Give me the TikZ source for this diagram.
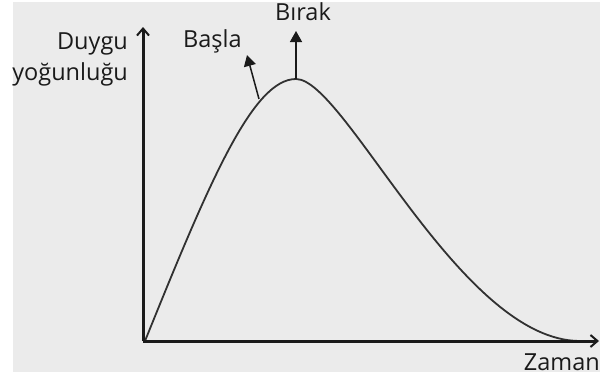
\documentclass[tikz,border=0pt]{standalone}
\usepackage{fontspec}
\setmainfont{Open Sans}
\usetikzlibrary{arrows.meta}
\definecolor{bggray}{HTML}{EBEBEB}
\definecolor{ink}{HTML}{1A1A1A}
\begin{document}
\begin{tikzpicture}[x=1pt,y=-1pt,
  lbl/.style={inner sep=0pt,text=ink,font=\fontsize{23.5}{28}\selectfont},
  axis/.style={line width=3pt,draw=ink,-{Straight Barb[length=7pt,width=12pt,line width=2pt]}},
  curve/.style={line width=1.8pt,draw=ink!90},
  marker/.style={line width=1.5pt,draw=ink,-{Triangle[length=11pt,width=12pt]}}]
\useasboundingbox (0,0) rectangle (600,383);
\fill[white] (0,0) rectangle (600,383);
\fill[bggray] (13,2) rectangle (600,372);
\coordinate (O) at (143,341);
\coordinate (Ytop) at (143,27);
\coordinate (Xend) at (599,341);
\coordinate (C0) at (145,341);
\coordinate (Peak) at (296,79);
\coordinate (End) at (580,341);
\coordinate (BaslaFoot) at (259,99);
\coordinate (BaslaTip) at (247,55);
\coordinate (BirakTip) at (296,31);
\draw[curve] (C0) .. controls (210,180) and (253,79) .. (Peak)
  .. controls (345,79) and (460,341) .. (End);
\draw[axis] (O) -- (Ytop);
\draw[axis] (O) -- (Xend);
\draw[marker] (BaslaFoot) -- (BaslaTip);
\draw[marker] (Peak) -- (BirakTip);
\node[lbl,anchor=base east] (duygu) at (128,49) {Duygu};
\node[lbl,anchor=base east] (yog) at (128,80) {yoğunluğu};
\node[lbl,anchor=base west] (basla) at (183,47) {Başla};
\node[lbl,anchor=base west] (birak) at (275,20) {Bırak};
\node[lbl,anchor=base east] (zaman) at (600,370) {Zaman};
\end{tikzpicture}
\end{document}
